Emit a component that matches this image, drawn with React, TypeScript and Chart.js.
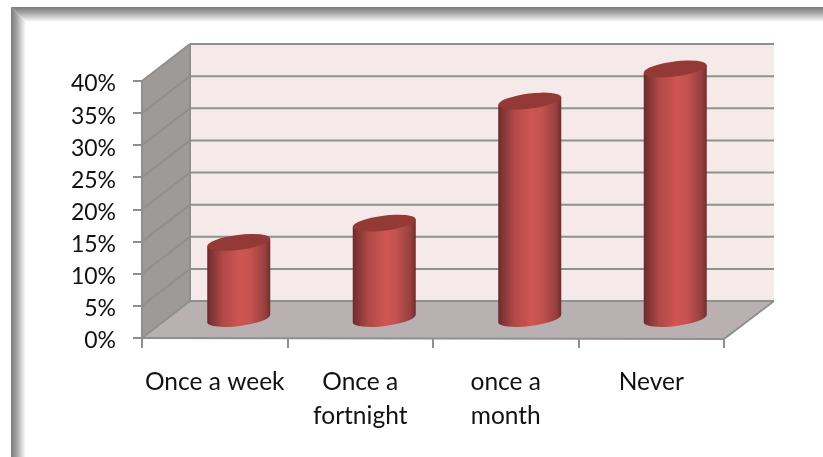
import React, { useEffect, useRef } from "react";
import { Chart, registerables } from "chart.js";

Chart.register(...registerables);

const categories: string[][] = [["Once a week"], ["Once a", "fortnight"], ["once a", "month"], ["Never"]];
const values: number[] = [12, 15, 34, 39];
const axisMax = 40;
const axisStep = 5;

const DEPTH_X = 48;
const DEPTH_Y = 37;
const GRID = "#8f8f8f";

function drawFrame(ctx: CanvasRenderingContext2D, w: number, h: number) {
  const L = 11, T = 7, B = 15;
  ctx.save();
  ctx.beginPath();
  ctx.moveTo(L, T); ctx.lineTo(w, T); ctx.lineTo(w, T + B); ctx.lineTo(L + B, T + B); ctx.closePath();
  ctx.clip();
  let g = ctx.createLinearGradient(0, T, 0, T + B);
  g.addColorStop(0, "#7b7b7b"); g.addColorStop(0.35, "#a0a0a0"); g.addColorStop(1, "#ffffff");
  ctx.fillStyle = g;
  ctx.fillRect(L, T, w - L, B);
  ctx.restore();
  ctx.save();
  ctx.beginPath();
  ctx.moveTo(L, T); ctx.lineTo(L + B, T + B); ctx.lineTo(L + B, h); ctx.lineTo(L, h); ctx.closePath();
  ctx.clip();
  g = ctx.createLinearGradient(L, 0, L + B, 0);
  g.addColorStop(0, "#7b7b7b"); g.addColorStop(0.35, "#a0a0a0"); g.addColorStop(1, "#ffffff");
  ctx.fillStyle = g;
  ctx.fillRect(L, T, B, h - T);
  ctx.restore();
}

const scene3d = {
  id: "scene3d",
  beforeDraw(chart: any) {
    const { ctx, width, height } = chart;
    drawFrame(ctx, width, height);
  },
  beforeDatasetsDraw(chart: any) {
    const { ctx, scales } = chart;
    const x0 = scales.x.left, x1 = scales.x.right;
    const yBottom = scales.y.getPixelForValue(0), yTop = scales.y.getPixelForValue(axisMax);
    const poly = (pts: number[][], fill: string) => {
      ctx.beginPath();
      pts.forEach((p, i) => (i ? ctx.lineTo(p[0], p[1]) : ctx.moveTo(p[0], p[1])));
      ctx.closePath();
      ctx.fillStyle = fill;
      ctx.fill();
    };
    const line = (a: number, b: number, c: number, d: number) => {
      ctx.beginPath(); ctx.moveTo(a, b); ctx.lineTo(c, d); ctx.stroke();
    };
    const bx0 = x0 + DEPTH_X, bx1 = x1 + 50;
    poly([[bx0, yTop - DEPTH_Y], [bx1, yTop - DEPTH_Y], [bx1, yBottom - DEPTH_Y], [bx0, yBottom - DEPTH_Y]], "#f5e9e9");
    poly([[x0, yTop], [bx0, yTop - DEPTH_Y], [bx0, yBottom - DEPTH_Y], [x0, yBottom]], "#9e9a98");
    poly([[x0, yBottom], [bx0, yBottom - DEPTH_Y], [bx1, yBottom - DEPTH_Y], [x1, yBottom + 1]], "#b9b1b1");
    ctx.save();
    ctx.strokeStyle = GRID;
    ctx.lineWidth = 2;
    for (let v = 0; v <= axisMax; v += axisStep) {
      const y = scales.y.getPixelForValue(v);
      line(x0, y, bx0, y - DEPTH_Y);
      line(bx0, y - DEPTH_Y, bx1, y - DEPTH_Y);
    }
    line(bx0, yTop - DEPTH_Y, bx0, yBottom - DEPTH_Y);
    line(x1, yBottom + 1, bx1, yBottom - DEPTH_Y);
    line(x0, yBottom, x1, yBottom + 1);
    line(x0, yTop, x0, yBottom);
    ctx.restore();
  },
  afterDatasetsDraw(chart: any) {
    const { ctx } = chart;
    const meta = chart.getDatasetMeta(0);
    const theta = (7.2 * Math.PI) / 180;
    meta.data.forEach((bar: any) => {
      const r = bar.width / 2;
      const cx = bar.x + DEPTH_X / 2;
      const yt = bar.y - DEPTH_Y / 2;
      const yb = bar.base - DEPTH_Y / 2;
      const s = r * Math.tan(theta);
      const rx = r / Math.cos(theta);
      const ry = 7.5;
      ctx.save();
      const g = ctx.createLinearGradient(cx - r, 0, cx + r, 0);
      g.addColorStop(0, "#6a2a29");
      g.addColorStop(0.05, "#7c3231");
      g.addColorStop(0.25, "#b04947");
      g.addColorStop(0.52, "#cf5553");
      g.addColorStop(0.68, "#c65250");
      g.addColorStop(0.92, "#96403e");
      g.addColorStop(1, "#702d2c");
      ctx.beginPath();
      ctx.moveTo(cx - r, yt + s);
      ctx.lineTo(cx - r, yb + s);
      ctx.ellipse(cx, yb, rx, ry, -theta, Math.PI, 0, true);
      ctx.lineTo(cx + r, yt - s);
      ctx.closePath();
      ctx.fillStyle = g;
      ctx.fill();
      ctx.beginPath();
      ctx.ellipse(cx, yt, rx, ry, -theta, 0, Math.PI * 2);
      ctx.fillStyle = "#933a37";
      ctx.fill();
      ctx.restore();
    });
  },
};

export default function App() {
  const ref = useRef<HTMLCanvasElement>(null);
  useEffect(() => {
    document.body.style.margin = "0";
    const chart = new Chart(ref.current!, {
      type: "bar",
      data: {
        labels: categories,
        datasets: [{
          data: values,
          backgroundColor: "rgba(0,0,0,0)",
          borderWidth: 0,
          categoryPercentage: 1,
          barPercentage: 0.433,
        }],
      },
      plugins: [scene3d],
      options: {
        animation: false,
        responsive: false,
        layout: { padding: { top: 81, right: 99, left: 0, bottom: 0 } },
        plugins: { legend: { display: false }, tooltip: { enabled: false } },
        scales: {
          x: {
            afterFit: (s: any) => { s.height = 119; },
            border: { display: false },
            grid: { drawOnChartArea: false, tickLength: 10, color: GRID, lineWidth: 2, tickColor: GRID, tickWidth: 2 },
            ticks: { color: "#111", font: { family: "Lato", size: 24.5, lineHeight: 1.35 }, padding: 18, maxRotation: 0, autoSkip: false },
          },
          y: {
            min: 0,
            max: axisMax,
            afterFit: (s: any) => { s.width = 142; },
            border: { display: false },
            grid: { drawOnChartArea: false, tickLength: 9, color: GRID, lineWidth: 2, tickColor: GRID, tickWidth: 2 },
            ticks: {
              color: "#111",
              font: { family: "Lato", size: 23 },
              padding: 17,
              stepSize: axisStep,
              labelOffset: 3,
              callback: (v: any) => v + "%",
            },
          },
        },
      },
    } as any);
    return () => chart.destroy();
  }, []);
  return <canvas ref={ref} width={823} height={457} style={{ display: "block" }} />;
}
